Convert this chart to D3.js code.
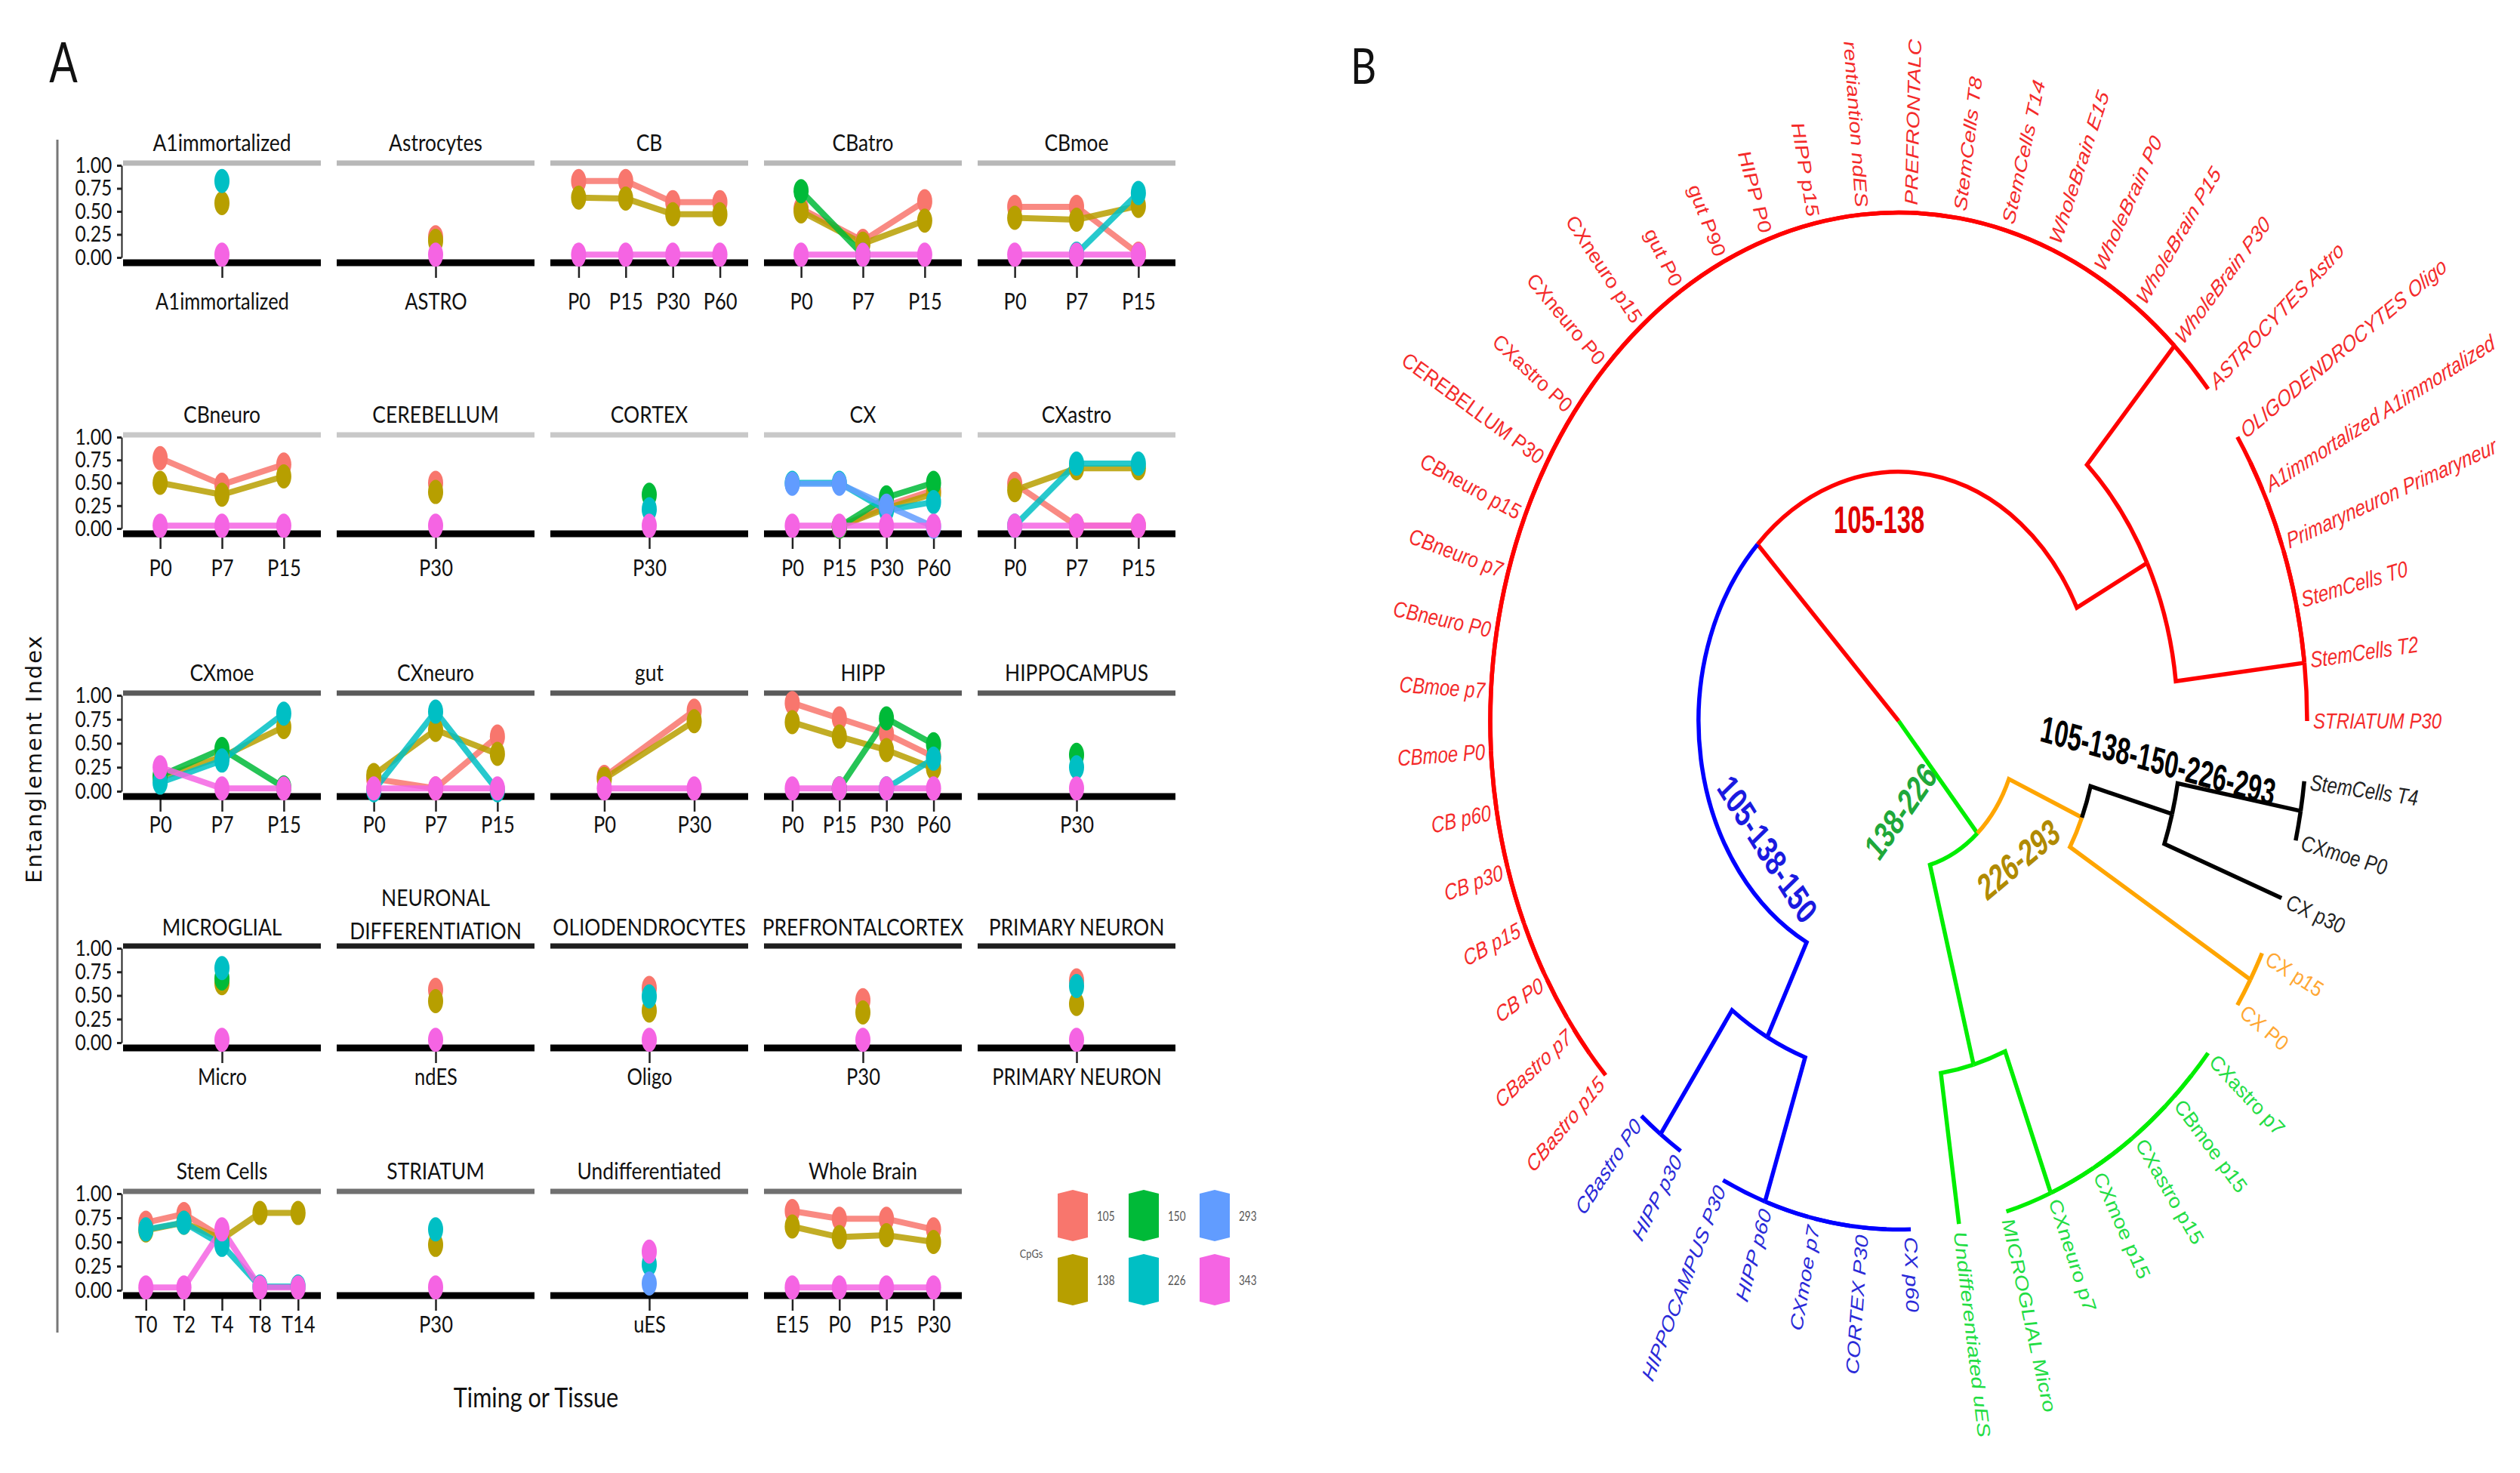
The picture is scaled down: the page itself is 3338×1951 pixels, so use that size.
<!DOCTYPE html>
<html>
<head>
<meta charset="utf-8">
<script src="https://cdn.jsdelivr.net/npm/d3@7"></script>
<style>
body { margin: 0; background: #fff; }
svg { display: block; }
</style>
</head>
<body>
<script>
// ---------- panel A data ----------
var facets = ["A1immortalized", "Astrocytes", "CB", "CBatro", "CBmoe",
	"CBneuro", "CEREBELLUM", "CORTEX", "CX", "CXastro",
	"CXmoe", "CXneuro", "gut", "HIPP", "HIPPOCAMPUS",
	"MICROGLIAL", "NEURONAL\nDIFFERENTIATION", "OLIODENDROCYTES", "PREFRONTALCORTEX", "PRIMARY NEURON",
	"Stem Cells", "STRIATUM", "Undifferentiated", "Whole Brain"];

var facetTimes = [["A1immortalized"], ["ASTRO"], ["P0", "P15", "P30", "P60"], ["P0", "P7", "P15"], ["P0", "P7", "P15"],
	["P0", "P7", "P15"], ["P30"], ["P30"], ["P0", "P15", "P30", "P60"], ["P0", "P7", "P15"],
	["P0", "P7", "P15"], ["P0", "P7", "P15"], ["P0", "P30"], ["P0", "P15", "P30", "P60"], ["P30"],
	["Micro"], ["ndES"], ["Oligo"], ["P30"], ["PRIMARY NEURON"],
	["T0", "T2", "T4", "T8", "T14"], ["P30"], ["uES"], ["E15", "P0", "P15", "P30"]];

var cpgs = ["105", "138", "150", "226", "293", "343"];
var cpgColours = ["#F8766D", "#B79F00", "#00BA38", "#00BFC4", "#619CFF", "#F564E3"];

var cpg105 = [[null], [0.22], [0.83, 0.83, 0.60, 0.60], [0.53, 0.18, 0.61], [0.55, 0.55, 0.04],
	[0.77, 0.48, 0.70], [0.50], [null], [null, 0.02, 0.25, 0.42], [0.49, 0.03, 0.03],
	[null, null, null], [0.13, 0.03, 0.57], [0.15, 0.84], [0.92, 0.76, 0.60, 0.36], [null],
	[null], [0.56], [0.58], [0.45], [0.66],
	[0.70, 0.79, 0.55, null, null], [null], [null], [0.82, 0.74, 0.74, 0.63]];

var cpg138 = [[0.59], [0.18], [0.65, 0.64, 0.47, 0.47], [0.50, 0.15, 0.40], [0.43, 0.41, 0.56],
	[0.50, 0.37, 0.57], [0.40], [null], [null, 0.02, 0.22, 0.38], [0.42, 0.66, 0.66],
	[0.14, 0.36, 0.67], [0.17, 0.64, 0.39], [0.13, 0.73], [0.72, 0.57, 0.43, 0.24], [null],
	[0.63], [0.44], [0.34], [0.32], [0.41],
	[0.62, 0.70, 0.53, 0.80, 0.80], [0.47], [null], [0.66, 0.55, 0.57, 0.50]];

var cpg150 = [[null], [null], [null, null, null, null], [0.72, 0.03, null], [null, null, null],
	[null, null, null], [null], [0.37], [null, 0.02, 0.34, 0.50], [null, null, null],
	[0.16, 0.44, 0.04], [null, null, null], [null, null], [null, 0.03, 0.76, 0.49], [0.38],
	[0.68], [null], [null], [null], [null],
	[null, null, null, null, null], [null], [null], [null, null, null, null]];

var cpg226 = [[0.83], [null], [null, null, null, null], [null, null, null], [null, 0.04, 0.70],
	[null, null, null], [null], [0.21], [0.50, 0.50, 0.20, 0.29], [0.03, 0.71, 0.71],
	[0.09, 0.32, 0.81], [0.01, 0.83, 0.01], [null, null], [null, null, 0.03, 0.34], [0.25],
	[0.79], [null], [0.49], [null], [0.60],
	[0.63, 0.70, 0.47, 0.04, 0.04], [0.63], [0.27], [null, null, null, null]];

var cpg293 = [[null], [null], [null, null, null, null], [null, null, null], [null, null, null],
	[null, null, null], [null], [null], [0.49, 0.49, 0.25, 0.02], [null, null, null],
	[null, null, null], [null, null, null], [null, null], [null, null, null, null], [null],
	[null], [null], [null], [null], [null],
	[null, null, null, null, null], [null], [0.07], [null, null, null, null]];

var cpg343 = [[0.03], [0.03], [0.03, 0.03, 0.03, 0.03], [0.03, 0.03, 0.03], [0.03, 0.03, 0.03],
	[0.03, 0.03, 0.03], [0.03], [0.03], [0.03, 0.03, 0.03, 0.03], [0.03, 0.03, 0.03],
	[0.25, 0.03, 0.03], [0.03, 0.03, 0.03], [0.03, 0.03], [0.03, 0.03, 0.03, 0.03], [0.03],
	[0.03], [0.03], [0.03], [0.03], [0.03],
	[0.03, 0.03, 0.63, 0.03, 0.03], [0.03], [0.40], [0.03, 0.03, 0.03, 0.03]];

var yTicks = [0, 0.25, 0.5, 0.75, 1];

// ---------- panel B data ----------
// leaves in counter-clockwise order, starting at angle 0
var leafNames = ["STRIATUM P30", "StemCells T2", "StemCells T0", "Primaryneuron Primaryneur", "A1immortalized A1immortalized",
	"OLIGODENDROCYTES Oligo", "ASTROCYTES Astro", "WholeBrain P30", "WholeBrain P15", "WholeBrain P0",
	"WholeBrain E15", "StemCells T14", "StemCells T8", "PREFRONTALC", "rentiantion ndES",
	"HIPP p15", "HIPP P0", "gut P90", "gut P0", "CXneuro p15",
	"CXneuro P0", "CXastro P0", "CEREBELLUM P30", "CBneuro p15", "CBneuro p7",
	"CBneuro P0", "CBmoe p7", "CBmoe P0", "CB p60", "CB p30",
	"CB p15", "CB P0", "CBastro p7", "CBastro p15", "CBastro P0",
	"HIPP p30", "HIPPOCAMPUS P30", "HIPP p60", "CXmoe p7", "CORTEX P30",
	"CX p60", "Undifferentiated uES", "MICROGLIAL Micro", "CXneuro p7", "CXmoe p15",
	"CXastro p15", "CBmoe p15", "CXastro p7", "CX P0", "CX p15",
	"CX p30", "CXmoe P0", "StemCells T4"];

// radius of the internal nodes (leaves sit at 1)
var nodeHeight = { root: 0, N1: 0.49, Rmid: 0.683, B1: 0.70, G: 0.293, Ggreen: 0.70, O1: 0.487, K1: 0.694 };

var cladeColour = { N1: "#ff0000", B1: "#0000ff", G: "#00ee00", O1: "#ffa500", K1: "#000000" };
var cladeTextColour = { N1: "#f42a2a", B1: "#2a2ad8", G: "#22dd44", O1: "#ffa733", K1: "#222222" };

var cladeNames = ["105-138", "105-138-150", "138-226", "226-293", "105-138-150-226-293"];
var cladeNameColour = ["#e00000", "#1a1ae0", "#1fa83a", "#b08a00", "#000000"];

function leaf(i) { return { leaf: i }; }
function ladder(from, to) {
	return from === to ? leaf(from) : { h: 1, children: [leaf(from), ladder(from + 1, to)] };
}

var treeData = { name: "root", h: nodeHeight.root, children: [
	{ name: "N1", h: nodeHeight.N1, children: [
		{ name: "Rmid", h: nodeHeight.Rmid, children: [ladder(0, 5), ladder(6, 33)] },
		{ name: "B1", h: nodeHeight.B1, children: [{ h: 1, children: [leaf(34), leaf(35)] }, ladder(36, 40)] }
	] },
	{ name: "G", h: nodeHeight.G, children: [
		{ name: "Ggreen", h: nodeHeight.Ggreen, children: [leaf(41), ladder(42, 47)] },
		{ name: "O1", h: nodeHeight.O1, children: [
			{ h: 1, children: [leaf(48), leaf(49)] },
			{ name: "K1", h: nodeHeight.K1, children: [leaf(50), { h: 1, children: [leaf(51), leaf(52)] }] }
		] }
	] }
] };

// ---------- drawing ----------
var svg = d3.select("body").append("svg").attr("width", 3338).attr("height", 1951)
	.style("font-family", "Lato, 'Open Sans', sans-serif");

function label(g, x, y, txt, size, sx, anchor) {
	return g.append("text")
		.attr("transform", "translate(" + x + "," + y + ") scale(" + sx + ",1)")
		.attr("text-anchor", anchor || "middle")
		.attr("dominant-baseline", "central")
		.attr("font-size", size)
		.attr("fill", "#111")
		.text(txt);
}

// panel letters
label(svg, 84, 80, "A", 74, 0.75);
label(svg, 1806, 86, "B", 66, 0.8);

// panel A layout
var colLeft = 163, colStep = 283, panelW = 262;
var rowTop = [216, 576, 918, 1253, 1578];
var rowBase = [348, 707, 1055, 1388, 1716];
var stripY = [188, 548, 890, 1227, 1550];
var xLabelY = [400, 753, 1093, 1427, 1755];
var rowLineColour = ["#b8b8b8", "#c8c8c8", "#5a5a5a", "#1e1e1e", "#707070"];
var series = [cpg105, cpg138, cpg150, cpg226, cpg293, cpg343];

var gA = svg.append("g");

gA.append("line").attr("x1", 76).attr("x2", 76).attr("y1", 185).attr("y2", 1765)
	.attr("stroke", "#777").attr("stroke-width", 3);

label(gA, 0, 0, "Entanglement Index", 29, 1)
	.attr("transform", "translate(45,1005) rotate(-90)")
	.attr("font-family", "'DejaVu Sans', sans-serif")
	.attr("letter-spacing", 2);

label(gA, 710, 1850, "Timing or Tissue", 36, 0.85);

facets.forEach(function(name, k) {
	var row = Math.floor(k / 5), col = k % 5;
	var x0 = colLeft + col * colStep;
	var x = d3.scalePoint().domain(facetTimes[k]).range([x0, x0 + panelW]).padding(0.6);
	var y = d3.scaleLinear().domain([0, 1]).range([rowBase[row] - 7, rowTop[row] + 3]);
	var g = gA.append("g");

	// strip
	var lines = name.split("\n");
	lines.forEach(function(t, i) {
		label(g, x0 + panelW / 2, stripY[row] - (lines.length - 1 - i) * 44 + (lines.length > 1 ? 5 : 0), t, 30, 0.88);
	});
	g.append("line").attr("x1", x0).attr("x2", x0 + panelW).attr("y1", rowTop[row]).attr("y2", rowTop[row])
		.attr("stroke", rowLineColour[row]).attr("stroke-width", 7);

	// x axis
	var ax = g.append("g").attr("transform", "translate(0," + rowBase[row] + ")")
		.call(d3.axisBottom(x).tickSize(20).tickSizeOuter(0));
	ax.select(".domain").remove();
	ax.selectAll(".tick line").attr("stroke", "#222").attr("stroke-width", 2.5);
	ax.selectAll(".tick text")
		.attr("y", xLabelY[row] - rowBase[row]).attr("dy", "0.35em")
		.attr("font-family", "Lato, sans-serif").attr("font-size", 30).attr("fill", "#111")
		.attr("transform", "scale(0.85,1)");

	g.append("line").attr("x1", x0).attr("x2", x0 + panelW).attr("y1", rowBase[row]).attr("y2", rowBase[row])
		.attr("stroke", "#000").attr("stroke-width", 9);

	// y axis on first column
	if (col === 0) {
		var ay = g.append("g").attr("transform", "translate(" + (x0 - 2) + ",0)")
			.call(d3.axisLeft(y).tickValues(yTicks).tickFormat(d3.format(".2f")).tickSize(6).tickPadding(9).tickSizeOuter(0));
		ay.select(".domain").attr("stroke", "#222").attr("stroke-width", 2);
		ay.selectAll(".tick line").attr("stroke", "#222").attr("stroke-width", 3);
		ay.selectAll(".tick text").attr("font-family", "Lato, sans-serif").attr("font-size", 29)
			.attr("fill", "#111").attr("transform", "scale(0.85,1)");
	}

	var line = d3.line().defined(function(d) { return d.v != null; })
		.x(function(d) { return x(d.t); }).y(function(d) { return y(d.v); });

	var pts = series.map(function(s) {
		return facetTimes[k].map(function(t, i) { return { t: t, v: s[k][i] }; });
	});

	pts.forEach(function(p, s) {
		g.append("path").datum(p).attr("d", line).attr("fill", "none")
			.attr("stroke", cpgColours[s]).attr("stroke-width", 8).attr("stroke-opacity", 0.85)
			.attr("stroke-linecap", "round").attr("stroke-linejoin", "round");
	});
	pts.forEach(function(p, s) {
		g.selectAll(null).data(p.filter(function(d) { return d.v != null; })).enter().append("ellipse")
			.attr("cx", function(d) { return x(d.t); })
			.attr("cy", function(d) { return y(d.v); })
			.attr("rx", 10).attr("ry", 16)
			.attr("fill", cpgColours[s]);
	});
});

// legend
var keyX = [1401, 1495, 1589], keyY = [1576, 1661], keyW = 40, keyH = 68;
var gL = svg.append("g");
label(gL, 1366, 1660, "CpGs", 15, 0.85).attr("fill", "#555");
cpgs.forEach(function(c, s) {
	var kx = keyX[Math.floor(s / 2)], ky = keyY[s % 2];
	gL.append("path")
		.attr("d", "M" + kx + "," + (ky + 5) + "L" + (kx + keyW / 2) + "," + ky + "L" + (kx + keyW) + "," + (ky + 5) +
			"L" + (kx + keyW) + "," + (ky + keyH - 5) + "L" + (kx + keyW / 2) + "," + (ky + keyH) + "L" + kx + "," + (ky + keyH - 5) + "Z")
		.attr("fill", cpgColours[s]);
	label(gL, kx + 52, ky + keyH / 2, c, 18, 0.75, "start").attr("fill", "#555");
});

// ---------- panel B: radial dendrogram ----------
var R = 541, stretch = 1.245, cx = 2515, cy = 955;
var gB = svg.append("g").attr("transform", "translate(" + cx + "," + cy + ") scale(1," + stretch + ")");

var angle = d3.scaleLinear().domain([0, leafNames.length]).range([0, 2 * Math.PI]);
var radius = d3.scaleLinear().domain([0, 1]).range([0, R]);

var root = d3.hierarchy(treeData);
root.eachAfter(function(d) {
	if (d.data.leaf != null) { d.a = d.data.leaf; d.h = 1; }
	else { d.a = d3.mean(d.children, function(c) { return c.a; }); d.h = d.data.h; }
});

function pt(r, a) { return [r * Math.cos(a), -r * Math.sin(a)]; }
function cladeOf(d) {
	var n = d.ancestors().find(function(a) { return cladeColour[a.data.name]; });
	return n ? n.data.name : null;
}

gB.selectAll("path.edge").data(root.descendants().filter(function(d) { return d.parent; }))
	.enter().append("path").attr("class", "edge")
	.attr("d", function(d) {
		var rp = radius(d.parent.h), a0 = angle(d.parent.a), a1 = angle(d.a), rc = radius(d.h);
		var s = "M" + pt(rp, a0);
		if (rp > 0 && a0 !== a1) {
			s += "A" + rp + "," + rp + " 0 " + (Math.abs(a1 - a0) > Math.PI ? 1 : 0) + "," + (a1 > a0 ? 0 : 1) + " " + pt(rp, a1);
		}
		return s + "L" + pt(rc, a1);
	})
	.attr("fill", "none")
	.attr("stroke", function(d) { return cladeColour[cladeOf(d)]; })
	.attr("stroke-width", 5.5)
	.attr("vector-effect", "non-scaling-stroke");

gB.selectAll("text.leaf").data(root.leaves()).enter().append("text").attr("class", "leaf")
	.attr("transform", function(d) {
		var a = angle(d.a), p = pt(R + 8, a), deg = a * 180 / Math.PI;
		return "translate(" + p + ") rotate(" + (Math.cos(a) < 0 ? 180 - deg : -deg) + ")";
	})
	.attr("text-anchor", function(d) { return Math.cos(angle(d.a)) < 0 ? "end" : "start"; })
	.attr("dominant-baseline", "central")
	.attr("font-family", "'Liberation Sans', Arial, sans-serif")
	.attr("font-style", "italic")
	.attr("font-size", 24)
	.attr("fill", function(d) { return cladeTextColour[cladeOf(d)]; })
	.text(function(d) { return leafNames[d.data.leaf]; });

// clade annotations: [radius, angle (deg), rotation]
var cladeNamePos = [[0.398, 96.9, 0], [0.409, 218.1, 52], [0.178, -88.2, -49], [0.40, -42.8, -34], [0.64, -7, 12.6]];
cladeNames.forEach(function(t, i) {
	var p = pt(radius(cladeNamePos[i][0]), cladeNamePos[i][1] * Math.PI / 180);
	gB.append("text")
		.attr("transform", "translate(" + p + ") rotate(" + cladeNamePos[i][2] + ") scale(0.82,1)")
		.attr("text-anchor", "middle").attr("dominant-baseline", "central")
		.attr("font-family", "'Liberation Sans', Arial, sans-serif")
		.attr("font-weight", "bold").attr("font-size", 40)
		.attr("fill", cladeNameColour[i])
		.text(t);
});
</script>
</body>
</html>
